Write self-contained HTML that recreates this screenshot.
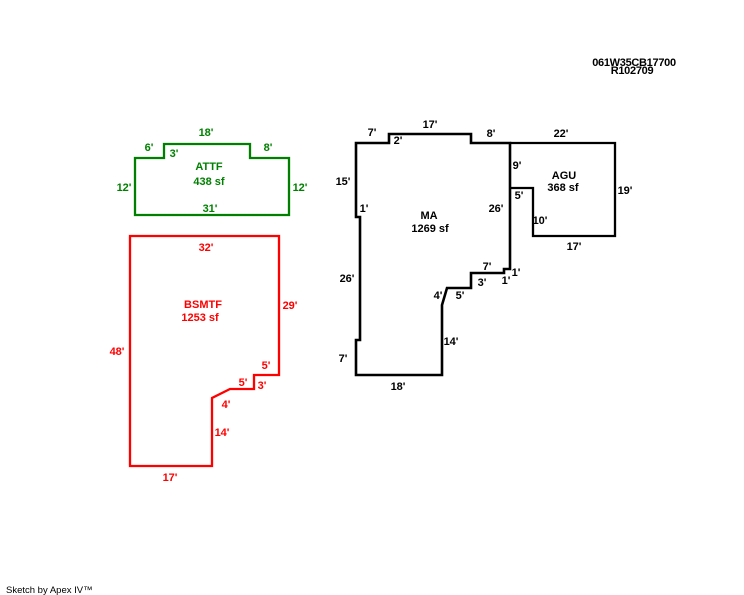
<!DOCTYPE html>
<html><head><meta charset="utf-8"><style>
html,body{margin:0;padding:0;background:#fff;}
svg{display:block;}
text{font-family:"Liberation Sans",Arial,sans-serif;font-weight:bold;font-size:11px;text-anchor:middle;}
.g{fill:#008000}.r{fill:#ff0000}.k{fill:#000}
</style></head><body>
<svg width="744" height="595" viewBox="0 0 744 595" xmlns="http://www.w3.org/2000/svg">
<rect width="744" height="595" fill="#fff"/>
<!-- ATTF -->
<polygon points="135,158 164,158 164,144 250,144 250,158 289,158 289,215 135,215" fill="none" stroke="#008000" stroke-width="2.3"/>
<!-- BSMTF -->
<polygon points="130,236 279,236 279,375 254,375 254,389 230,389 212,398 212,466 130,466" fill="none" stroke="#ff0000" stroke-width="2.3"/>
<!-- MA -->
<polygon points="356,143 389,143 389,134 471,134 471,143 510,143 510,269 504,269 504,273 471,273 471,288 447,288 442,305 442,375 356,375 356,340 360,340 360,217 356,217" fill="none" stroke="#000" stroke-width="2.6"/>
<!-- AGU -->
<polyline points="510,143 615,143 615,236 533,236 533,188 510,188" fill="none" stroke="#000" stroke-width="2.3"/>

<g class="g">
<text x="206" y="136">18'</text>
<text x="149" y="151">6'</text>
<text x="174" y="157">3'</text>
<text x="268" y="151">8'</text>
<text x="209" y="170">ATTF</text>
<text x="209" y="185">438 sf</text>
<text x="124" y="191">12'</text>
<text x="300" y="191">12'</text>
<text x="210" y="212">31'</text>
</g>

<g class="k">
<text x="372" y="136">7'</text>
<text x="398" y="144">2'</text>
<text x="430" y="128">17'</text>
<text x="491" y="137">8'</text>
<text x="561" y="137">22'</text>
<text x="343" y="185">15'</text>
<text x="364" y="212">1'</text>
<text x="429" y="219">MA</text>
<text x="430" y="232">1269 sf</text>
<text x="496" y="212">26'</text>
<text x="517" y="169">9'</text>
<text x="564" y="179">AGU</text>
<text x="563" y="191">368 sf</text>
<text x="519" y="199">5'</text>
<text x="540" y="224">10'</text>
<text x="625" y="194">19'</text>
<text x="574" y="250">17'</text>
<text x="347" y="282">26'</text>
<text x="487" y="270">7'</text>
<text x="516" y="276">1'</text>
<text x="482" y="286">3'</text>
<text x="506" y="284">1'</text>
<text x="438" y="299">4'</text>
<text x="460" y="299">5'</text>
<text x="451" y="345">14'</text>
<text x="343" y="362">7'</text>
<text x="398" y="390">18'</text>
</g>

<g class="r">
<text x="206" y="251">32'</text>
<text x="203" y="308">BSMTF</text>
<text x="200" y="321">1253 sf</text>
<text x="290" y="309">29'</text>
<text x="117" y="355">48'</text>
<text x="266" y="369">5'</text>
<text x="243" y="386">5'</text>
<text x="262" y="389">3'</text>
<text x="226" y="408">4'</text>
<text x="222" y="436">14'</text>
<text x="170" y="481">17'</text>
</g>

<text x="634" y="66" class="k" style="font-size:11px;letter-spacing:-0.3px">061W35CB17700</text>
<text x="632" y="74" class="k" style="font-size:11px;letter-spacing:-0.3px">R102709</text>
<text x="6" y="593" class="k" style="font-weight:normal;font-size:9.5px;text-anchor:start">Sketch by Apex IV™</text>
</svg>
</body></html>
